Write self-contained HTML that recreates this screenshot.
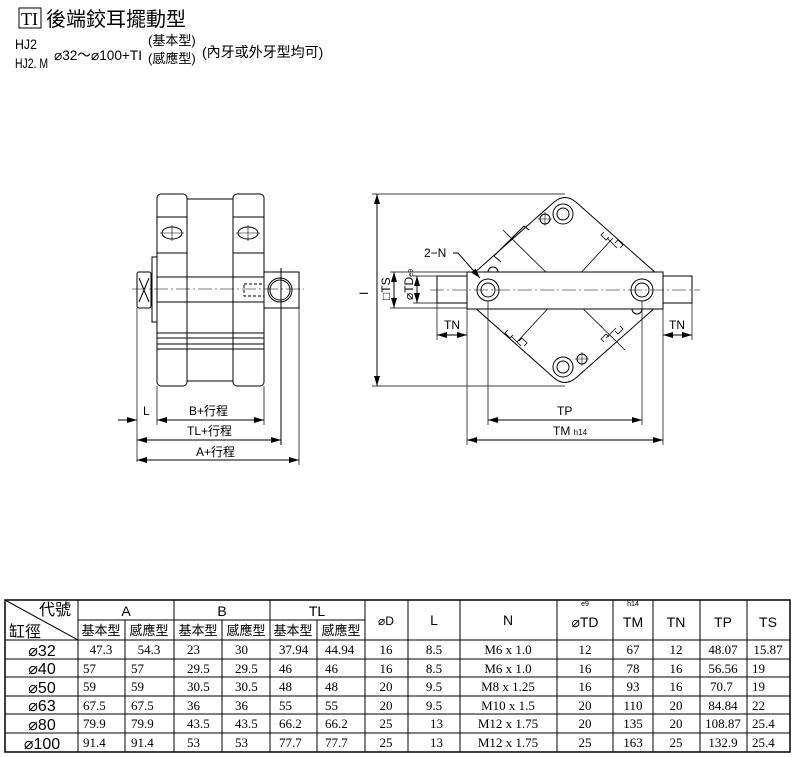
<!DOCTYPE html>
<html><head><meta charset="utf-8"><style>
body{margin:0;background:#fff;}
svg{display:block;font-family:"Liberation Sans","Noto Sans CJK TC",sans-serif;}
</style></head><body>
<svg width="800" height="757" viewBox="0 0 800 757" xmlns="http://www.w3.org/2000/svg">
<defs>
<marker id="a" viewBox="0 0 10 6" refX="10" refY="3" markerWidth="10" markerHeight="6" orient="auto-start-reverse" markerUnits="userSpaceOnUse"><path d="M0,0 L10,3 L0,6 z" fill="#000"/></marker>
</defs>
<!-- Header -->
<rect x="19" y="8" width="22" height="20" fill="none" stroke="#000" stroke-width="1"/>
<text x="21" y="25" font-family="Liberation Serif" font-size="18">TI</text>
<text x="46" y="26" font-size="20">後端鉸耳擺動型</text>
<text x="15" y="49" font-size="14" textLength="22" lengthAdjust="spacingAndGlyphs">HJ2</text>
<text x="15" y="68" font-size="14" textLength="33" lengthAdjust="spacingAndGlyphs">HJ2. M</text>
<text x="54" y="60" font-size="14" textLength="88" lengthAdjust="spacingAndGlyphs">⌀32～⌀100+TI</text>
<text x="148" y="45" font-size="13">(基本型)</text>
<text x="148" y="63" font-size="13">(感應型)</text>
<text x="202" y="57" font-size="14">(內牙或外牙型均可)</text>

<g fill="none" stroke="#000" stroke-width="1">
<!-- Left drawing -->
<rect x="157" y="194" width="30" height="192" rx="4"/>
<rect x="233" y="194" width="31" height="192" rx="4"/>
<line x1="187" y1="199" x2="233" y2="199"/><line x1="187" y1="381" x2="233" y2="381"/>
<path d="M157 217 H187 M157 253 H187 M233 217 H264 M233 253 H264"/>
<ellipse cx="172" cy="233" rx="10" ry="6"/><ellipse cx="248" cy="233" rx="10" ry="6"/>
<path d="M172 225 V241 M248 225 V241 M160 233 H184 M236 233 H260" stroke-width="0.6"/>
<path d="M157 277 H264 M157 302 H264 M157 333 H264 M157 338 H264 M157 344 H264 M157 349 H264"/>
<rect x="152" y="257" width="5" height="65"/>
<rect x="137" y="272" width="14" height="36" rx="2"/>
<path d="M139 278 L149 302 M149 278 L139 302"/>
<rect x="264" y="272" width="35" height="36"/>
<circle cx="280" cy="290" r="12"/><circle cx="280" cy="290" r="10"/>
<rect x="244" y="284" width="20" height="12" stroke-dasharray="3,2"/>
<line x1="281" y1="268" x2="281" y2="445"/>
<line x1="132" y1="289" x2="304" y2="289" stroke-width="0.6" stroke-dasharray="14,3,2,3"/>
<path d="M137 308 V462 M157 386 V425 M264 386 V425 M299 308 V465" stroke-width="0.7"/>
<line x1="118" y1="420" x2="137" y2="420" marker-end="url(#a)"/>
<line x1="157" y1="420" x2="264" y2="420" marker-start="url(#a)" marker-end="url(#a)"/>
<line x1="137" y1="440" x2="281" y2="440" marker-start="url(#a)" marker-end="url(#a)"/>
<line x1="137" y1="460" x2="299" y2="460" marker-start="url(#a)" marker-end="url(#a)"/>

<!-- Right drawing -->
<path d="M455 290 L553 203 Q565 192 577 203 L675 290 L577 377 Q565 388 553 377 Z"/>
<path d="M501 262 L494 256 L524 226 L529 230" />
<path d="M503 230 L625 350 M613 238 L517 342" stroke-width="0.8"/>
<circle cx="563" cy="214" r="10"/><circle cx="563" cy="214" r="6"/>
<circle cx="545" cy="219" r="5"/><path d="M538 219 H552 M545 212 V226" stroke-width="0.6"/>
<circle cx="563" cy="367" r="10"/><circle cx="563" cy="367" r="6"/>
<circle cx="582" cy="359" r="5"/><path d="M575 359 H589 M582 352 V366" stroke-width="0.6"/>
<path d="M488 272 A5 5 0 0 1 498 272 M632 309 A5 5 0 0 0 642 309"/>
<path d="M604 232 l-3 3 l5 5 l3 -3 M615 243 l3 -3 l5 5 l-3 3 M607 238 l10 10" stroke-width="0.8"/>
<path d="M508 330 l-3 3 l5 5 l3 -3 M519 341 l3 -3 l5 5 l-3 3 M511 336 l10 10" stroke-width="0.8"/>
<path d="M604 342 l-3 -3 l5 -5 l3 3 M615 331 l3 3 l5 -5 l-3 -3 M606 338 l10 -10" stroke-width="0.8"/>
<rect x="467" y="272" width="196" height="37" fill="#fff"/>
<rect x="437" y="276" width="30" height="27" fill="#fff"/>
<rect x="663" y="276" width="29" height="27" fill="#fff"/>
<circle cx="488" cy="290" r="11"/><circle cx="488" cy="290" r="7"/>
<circle cx="642" cy="290" r="11"/><circle cx="642" cy="290" r="7"/>
<line x1="430" y1="290" x2="700" y2="290" stroke-width="0.6" stroke-dasharray="14,3,2,3"/>
<path d="M372 194 H565 M372 386 H565 M390 272 H467 M390 308 H467 M413 276 H437 M413 303 H437" stroke-width="0.7"/>
<line x1="377" y1="194" x2="377" y2="386" marker-start="url(#a)" marker-end="url(#a)"/>
<line x1="394" y1="272" x2="394" y2="308" marker-start="url(#a)" marker-end="url(#a)"/>
<line x1="417" y1="276" x2="417" y2="303" marker-start="url(#a)" marker-end="url(#a)"/>
<path d="M437 303 V340 M467 309 V445 M663 309 V445 M692 303 V340 M488 301 V425 M642 301 V425" stroke-width="0.7"/>
<line x1="437" y1="335" x2="467" y2="335" marker-start="url(#a)" marker-end="url(#a)"/>
<line x1="663" y1="335" x2="692" y2="335" marker-start="url(#a)" marker-end="url(#a)"/>
<line x1="488" y1="420" x2="642" y2="420" marker-start="url(#a)" marker-end="url(#a)"/>
<line x1="467" y1="440" x2="663" y2="440" marker-start="url(#a)" marker-end="url(#a)"/>
<path d="M453 253 H458 L480 278" marker-end="url(#a)"/>
</g>
<g font-size="12">
<text x="143" y="415">L</text>
<text x="189" y="415">B+行程</text>
<text x="187" y="435">TL+行程</text>
<text x="196" y="456">A+行程</text>
<text x="424" y="257">2−N</text>
<text x="444" y="329">TN</text>
<text x="669" y="329">TN</text>
<text x="557" y="415">TP</text>
<text x="553" y="435">TM <tspan font-size="8">h14</tspan></text>
<text transform="translate(368,295) rotate(-90)">I</text>
<text transform="translate(390,300) rotate(-90)">□TS</text>
<text transform="translate(413,300) rotate(-90)">⌀TD<tspan font-size="7">e9</tspan></text>
</g>

<!-- Table -->
<g fill="none" stroke="#000" stroke-width="1">
<rect x="5" y="600" width="785" height="152" stroke-width="1.5"/>
<path d="M78 600 V752 M174 600 V752 M270 600 V752 M365 600 V752 M408 600 V752 M460 600 V752 M557 600 V752 M613 600 V752 M653 600 V752 M700 600 V752 M747 600 V752"/>
<path d="M125 620 V752 M222 620 V752 M317 620 V752"/>
<path d="M78 620 H365 M5 640 H790 M5 659 H790 M5 677 H790 M5 696 H790 M5 714 H790 M5 733 H790"/>
<line x1="5" y1="600" x2="78" y2="640"/>
</g>
<g font-size="14" text-anchor="middle">
<text x="55" y="615" font-size="16">代號</text>
<text x="25" y="637" font-size="16">缸徑</text>
<text x="126" y="616">A</text><text x="222" y="616">B</text><text x="317" y="616">TL</text>
<g font-size="13"><text x="101" y="635">基本型</text><text x="149" y="635">感應型</text><text x="198" y="635">基本型</text><text x="246" y="635">感應型</text><text x="293" y="635">基本型</text><text x="341" y="635">感應型</text></g>
<text x="386" y="625" font-size="12">⌀D</text>
<text x="434" y="625">L</text><text x="508" y="625">N</text>
<text x="585" y="606" font-size="7">e9</text><text x="585" y="627">⌀TD</text>
<text x="633" y="606" font-size="7">h14</text><text x="633" y="627">TM</text>
<text x="676" y="627">TN</text><text x="723" y="627">TP</text><text x="768" y="627">TS</text>
<g font-size="16"><text x="42" y="656">⌀32</text><text x="42" y="674">⌀40</text><text x="42" y="693">⌀50</text><text x="42" y="711">⌀63</text><text x="42" y="730">⌀80</text><text x="42" y="749">⌀100</text></g>
</g>
<g font-family="Liberation Serif" font-size="13">
<g text-anchor="middle">
<text x="101" y="654">47.3</text><text x="149" y="654">54.3</text><text x="386" y="654">16</text><text x="434" y="654">8.5</text><text x="508" y="654">M6 x 1.0</text><text x="585" y="654">12</text><text x="633" y="654">67</text><text x="676" y="654">12</text><text x="723" y="654">48.07</text><text x="768" y="654">15.87</text>
<text x="386" y="673">16</text><text x="434" y="673">8.5</text><text x="508" y="673">M6 x 1.0</text><text x="585" y="673">16</text><text x="633" y="673">78</text><text x="676" y="673">16</text><text x="723" y="673">56.56</text>
<text x="386" y="691">20</text><text x="434" y="691">9.5</text><text x="508" y="691">M8 x 1.25</text><text x="585" y="691">16</text><text x="633" y="691">93</text><text x="676" y="691">16</text>
<text x="386" y="710">20</text><text x="434" y="710">9.5</text><text x="508" y="710">M10 x 1.5</text><text x="585" y="710">20</text><text x="633" y="710">110</text><text x="676" y="710">20</text><text x="723" y="710">84.84</text>
<text x="386" y="728">25</text><text x="508" y="728">M12 x 1.75</text><text x="585" y="728">20</text><text x="633" y="728">135</text><text x="676" y="728">20</text><text x="723" y="728">108.87</text>
<text x="386" y="747">25</text><text x="508" y="747">M12 x 1.75</text><text x="585" y="747">25</text><text x="633" y="747">163</text><text x="676" y="747">25</text><text x="723" y="747">132.9</text>
</g>
<text x="83" y="673">57</text><text x="131" y="673">57</text><text x="83" y="691">59</text><text x="131" y="691">59</text><text x="83" y="710">67.5</text><text x="131" y="710">67.5</text><text x="83" y="728">79.9</text><text x="131" y="728">79.9</text><text x="83" y="747">91.4</text><text x="131" y="747">91.4</text>
<text x="187" y="654">23</text><text x="235" y="654">30</text><text x="187" y="673">29.5</text><text x="235" y="673">29.5</text><text x="187" y="691">30.5</text><text x="235" y="691">30.5</text><text x="187" y="710">36</text><text x="235" y="710">36</text><text x="187" y="728">43.5</text><text x="235" y="728">43.5</text><text x="187" y="747">53</text><text x="235" y="747">53</text>
<text x="279" y="654">37.94</text><text x="325" y="654">44.94</text><text x="279" y="673">46</text><text x="325" y="673">46</text><text x="279" y="691">48</text><text x="325" y="691">48</text><text x="279" y="710">55</text><text x="325" y="710">55</text><text x="279" y="728">66.2</text><text x="325" y="728">66.2</text><text x="279" y="747">77.7</text><text x="325" y="747">77.7</text>
<text x="430" y="728">13</text><text x="430" y="747">13</text>
<text x="710" y="691">70.7</text>
<text x="752" y="673">19</text><text x="752" y="691">19</text><text x="752" y="710">22</text><text x="752" y="728">25.4</text><text x="752" y="747">25.4</text>
</g>
</svg>
</body></html>
